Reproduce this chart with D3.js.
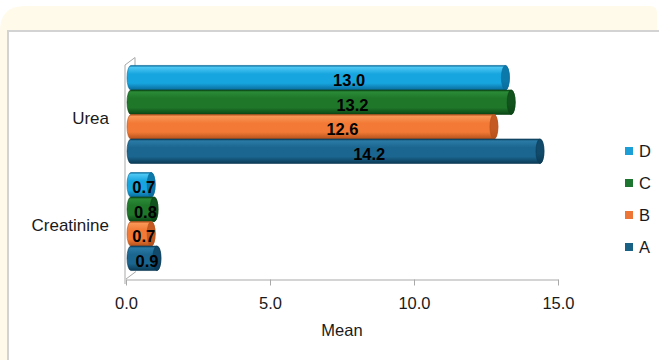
<!DOCTYPE html>
<html>
<head>
<meta charset="utf-8">
<script src="https://cdn.jsdelivr.net/npm/d3@7"></script>
<style>
  html, body { margin: 0; padding: 0; background: #ffffff; }
  svg { display: block; }
  text { font-family: "Liberation Sans", Arial, Helvetica, sans-serif; }
</style>
</head>
<body>
<svg id="chart" width="659" height="360"></svg>
<script>
// Mean values per parameter and group
const categories = ["Urea", "Creatinine"];
const seriesNames = ["A", "B", "C", "D"];
const valuesA = [14.2, 0.9];
const valuesB = [12.6, 0.7];
const valuesC = [13.2, 0.8];
const valuesD = [13.0, 0.7];
const xTicks = [0, 5, 10, 15];
const axisTitle = "Mean";

const seriesValues = { A: valuesA, B: valuesB, C: valuesC, D: valuesD };

// colours: flat (legend), light, main, dark, cap
const palette = {
  A: { flat: "#1a6186", light: "#2a7aa6", main: "#1b6690", dark: "#0b3a55", cap: "#114a6a" },
  B: { flat: "#ed7535", light: "#f99655", main: "#f27a36", dark: "#b4501b", cap: "#c55a22" },
  C: { flat: "#1e7530", light: "#2a8a36", main: "#1f772a", dark: "#0b4515", cap: "#12521c" },
  D: { flat: "#1c9fd6", light: "#4cc6f2", main: "#17a5df", dark: "#0a6b9c", cap: "#0c79ab" }
};

const svg = d3.select("#chart");
const defs = svg.append("defs");

// background card and plot panel
svg.append("path")
  .attr("d", "M0,31 Q0,6 25,6 L650,6 Q657,6 657,13 L657,360 L0,360 Z")
  .attr("fill", "#fffaea");
svg.append("rect")
  .attr("x", 8).attr("y", 31).attr("width", 700).attr("height", 400)
  .attr("fill", "#ffffff").attr("stroke", "#d3d3d3").attr("stroke-width", 2);

// scales
const x = d3.scaleLinear().domain([0, 15]).range([126, 558]);
const y = d3.scaleBand().domain(categories).range([60, 276])
  .paddingInner(0.084).paddingOuter(0.051);
const yInner = d3.scaleBand().domain(["D", "C", "B", "A"]).range([0, y.bandwidth()]);

const depth = { dx: 10, dy: -7.5 };
const wallColor = "#a9a9a9";

// side wall of the 3D frame
const wall = svg.append("g").attr("fill", "none").attr("stroke", wallColor).attr("stroke-width", 1);
const topY = y.range()[0] + 5;
wall.append("path")
  .attr("d", `M${x(0) - 1},284 L${x(0) - 1},${topY} L${x(0) - 1 + depth.dx},${topY + depth.dy} L${x(0) - 1 + depth.dx},${topY + 6}`);
wall.append("line")
  .attr("x1", x(0)).attr("y1", 279).attr("x2", x(0) + depth.dx).attr("y2", 279 + depth.dy);

// x axis
const xAxis = d3.axisBottom(x)
  .tickValues(xTicks)
  .tickFormat(d3.format(".1f"))
  .tickSize(6)
  .tickSizeOuter(0)
  .tickPadding(12);
const gx = svg.append("g").attr("transform", "translate(0,279.5)").call(xAxis);
gx.select(".domain").attr("stroke", wallColor);
gx.selectAll(".tick line").attr("stroke", wallColor);
gx.selectAll(".tick text").attr("font-size", 16.5).attr("fill", "#1a1a1a")
  .attr("font-family", "Liberation Sans, Arial, sans-serif");

svg.append("text")
  .attr("x", (x.range()[0] + x.range()[1]) / 2).attr("y", 335.5)
  .attr("text-anchor", "middle").attr("font-size", 16.5).attr("fill", "#1a1a1a")
  .text(axisTitle);

// category axis
const yAxis = d3.axisLeft(y).tickSize(0).tickPadding(16);
const gy = svg.append("g").attr("transform", `translate(${x(0) - 1},4)`).call(yAxis);
gy.select(".domain").remove();
gy.selectAll(".tick text").attr("font-size", 17).attr("fill", "#1a1a1a")
  .attr("font-family", "Liberation Sans, Arial, sans-serif");

// gradients for cylinders
seriesNames.forEach(s => {
  const p = palette[s];
  const g = defs.append("linearGradient").attr("id", "body-" + s)
    .attr("x1", 0).attr("y1", 0).attr("x2", 0).attr("y2", 1);
  g.append("stop").attr("offset", "0%").attr("stop-color", p.dark);
  g.append("stop").attr("offset", "8%").attr("stop-color", p.light);
  g.append("stop").attr("offset", "35%").attr("stop-color", p.main);
  g.append("stop").attr("offset", "72%").attr("stop-color", p.main);
  g.append("stop").attr("offset", "100%").attr("stop-color", p.dark);
  const c = defs.append("linearGradient").attr("id", "cap-" + s)
    .attr("x1", 0).attr("y1", 0).attr("x2", 0).attr("y2", 1);
  c.append("stop").attr("offset", "0%").attr("stop-color", p.cap);
  c.append("stop").attr("offset", "60%").attr("stop-color", p.cap);
  c.append("stop").attr("offset", "100%").attr("stop-color", p.dark);
});

// bars as horizontal cylinders
const rx = 4;
const shift = 5;
const drawOrder = ["D", "C", "B", "A"];
const bars = svg.append("g");
categories.forEach((cat, ci) => {
  drawOrder.forEach(s => {
    const v = seriesValues[s][ci];
    const y0 = y(cat) + yInner(s);
    const h = yInner.bandwidth();
    const ry = h / 2;
    const xs = x(0) + shift;
    const xe = x(v) + shift;
    const g = bars.append("g");
    g.append("path")
      .attr("d", `M${xs},${y0} L${xe},${y0} A${rx},${ry} 0 0 1 ${xe},${y0 + h} L${xs},${y0 + h} A${rx},${ry} 0 0 1 ${xs},${y0} Z`)
      .attr("fill", `url(#body-${s})`)
      .attr("stroke", palette[s].dark).attr("stroke-width", 0.6);
    g.append("ellipse")
      .attr("cx", xe).attr("cy", y0 + ry).attr("rx", rx).attr("ry", ry)
      .attr("fill", `url(#cap-${s})`)
      .attr("stroke", palette[s].dark).attr("stroke-width", 0.6);
  });
});

// value labels
const labels = svg.append("g");
categories.forEach((cat, ci) => {
  drawOrder.forEach(s => {
    const v = seriesValues[s][ci];
    const cy = y(cat) + yInner(s) + yInner.bandwidth() / 2;
    labels.append("text")
      .attr("x", x(v * 0.58) + 6).attr("y", cy + 8.5)
      .attr("text-anchor", "middle")
      .attr("font-size", 16.5).attr("font-weight", "bold").attr("fill", "#000000")
      .text(d3.format(".1f")(v));
  });
});

// legend
const legend = svg.append("g");
["D", "C", "B", "A"].forEach((s, i) => {
  const cy = 151 + i * 32;
  legend.append("rect")
    .attr("x", 625).attr("y", cy - 4).attr("width", 8).attr("height", 8)
    .attr("fill", palette[s].flat);
  legend.append("text")
    .attr("x", 639).attr("y", cy + 5.7)
    .attr("font-size", 16.5).attr("fill", "#1a1a1a")
    .text(s);
});
</script>
</body>
</html>
